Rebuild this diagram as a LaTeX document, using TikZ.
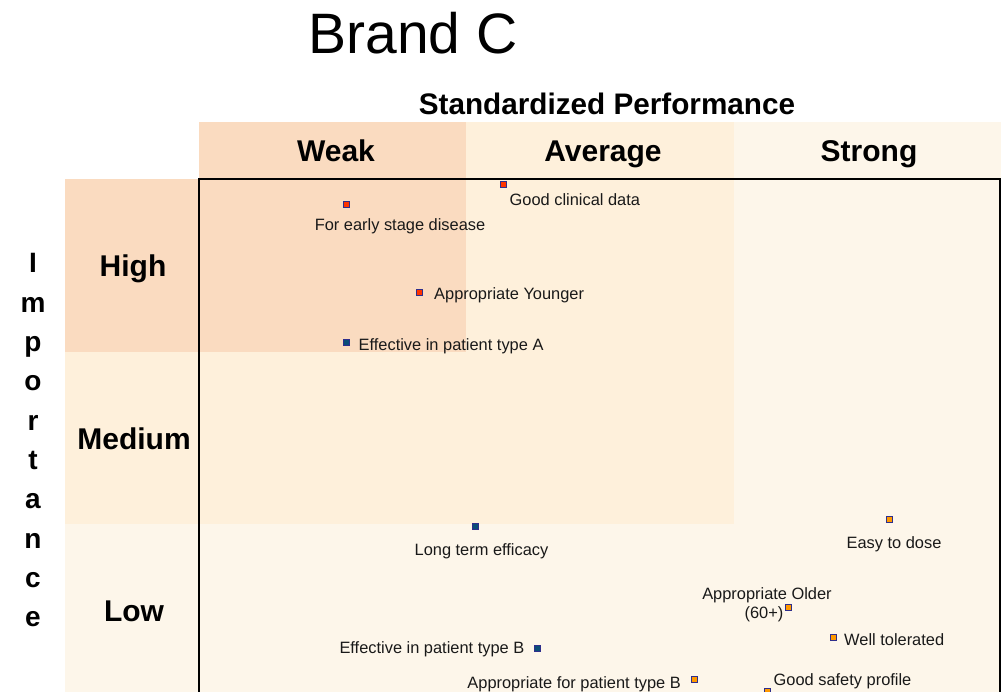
\documentclass[tikz,border=0pt]{standalone}
\usepackage{fontspec}
\setmainfont{Liberation Sans}
\definecolor{cdark}{HTML}{FADBC0}
\definecolor{cmed}{HTML}{FEF0DB}
\definecolor{clight}{HTML}{FDF6EA}
\definecolor{mkborder}{HTML}{2E2E8C}
\definecolor{mkred}{HTML}{FF3300}
\definecolor{mkblue}{HTML}{0A4D78}
\definecolor{mkorange}{HTML}{FF9900}
\tikzset{
  mk/.style={rectangle, draw=mkborder, line width=0.9pt, minimum size=6pt, inner sep=0pt},
  mkr/.style={mk, fill=mkred},
  mkb/.style={mk, fill=mkblue},
  mko/.style={mk, fill=mkorange},
  lbl/.style={inner sep=0pt, font=\fontsize{16.4}{18}\selectfont, text=black!90},
  hdr/.style={inner sep=0pt, anchor=base, font=\fontsize{30}{34}\selectfont\bfseries},
  imp/.style={inner sep=0pt, anchor=base, font=\fontsize{28}{30}\selectfont\bfseries},
}
\begin{document}
\begin{tikzpicture}[x=1pt,y=-1pt]
\useasboundingbox (0,0) rectangle (1005,692);
\clip (0,0) rectangle (1005,692);
% backgrounds
\fill[clight] (199,122) rectangle (1001,700);
\fill[clight] (65,524) rectangle (199,700);
\fill[cmed] (199,122) rectangle (734,524);
\fill[cmed] (65,352) rectangle (199,524);
\fill[cdark] (199,122) rectangle (466,352);
\fill[cdark] (65,179) rectangle (199,352);
% plot frame
\draw[line width=1.2pt] (199,179) rectangle (1000,720);
% titles
\node[inner sep=0pt, anchor=base, font=\fontsize{57}{60}\selectfont] (title) at (413,54) {Brand C};
\node[inner sep=0pt, anchor=base, font=\fontsize{29.7}{32}\selectfont\bfseries] (perf) at (607,115) {Standardized Performance};
\node[hdr] (weak) at (336,162) {Weak};
\node[hdr] (avg) at (603,162) {Average};
\node[hdr] (strong) at (869,162) {Strong};
\node[hdr] (high) at (133,277) {High};
\node[hdr] (medium) at (134,450) {Medium};
\node[hdr] (low) at (134,622) {Low};
% Importance
\foreach \ch [count=\k from 0] in {I,m,p,o,r,t,a,n,c,e}{
  \node[imp] (imp\k) at (33,{273+39.3*\k}) {\ch};
}
% markers
\node[mkr] (m1) at (346,204) {};
\node[mkr] (m2) at (503,184) {};
\node[mkr] (m3) at (419,292.5) {};
\node[mkb] (m4) at (346,342) {};
\node[mkb] (m5) at (475.5,526) {};
\node[mko] (m6) at (889.5,519.5) {};
\node[mko] (m7) at (788.5,607.5) {};
\node[mko] (m8) at (833.5,637.5) {};
\node[mkb] (m9) at (537,648) {};
\node[mko] (m10) at (694.5,679) {};
\node[mko] (m11) at (767.5,691) {};
% labels
\node[lbl, anchor=base] (l1) at (400,231) {For early stage disease};
\node[lbl, anchor=base west] (l2) at (509.5,206) {Good clinical data};
\node[lbl, anchor=base west] (l3) at (434,300) {Appropriate Younger};
\node[lbl, anchor=base west] (l4) at (358.5,351) {Effective in patient type A};
\node[lbl, anchor=base] (l5) at (481.5,556) {Long term efficacy};
\node[lbl, anchor=base] (l6) at (894,549) {Easy to dose};
\node[lbl, anchor=base] (l7a) at (767,599) {Appropriate Older};
\node[lbl, anchor=base] (l7b) at (764,619) {(60+)};
\node[lbl, anchor=base west] (l8) at (844,645) {Well tolerated};
\node[lbl, anchor=base east] (l9) at (524.5,653) {Effective in patient type B};
\node[lbl, anchor=base east] (l10) at (681,688) {Appropriate for patient type B};
\node[lbl, anchor=base west] (l11) at (773.5,685) {Good safety profile};
\end{tikzpicture}
\end{document}
